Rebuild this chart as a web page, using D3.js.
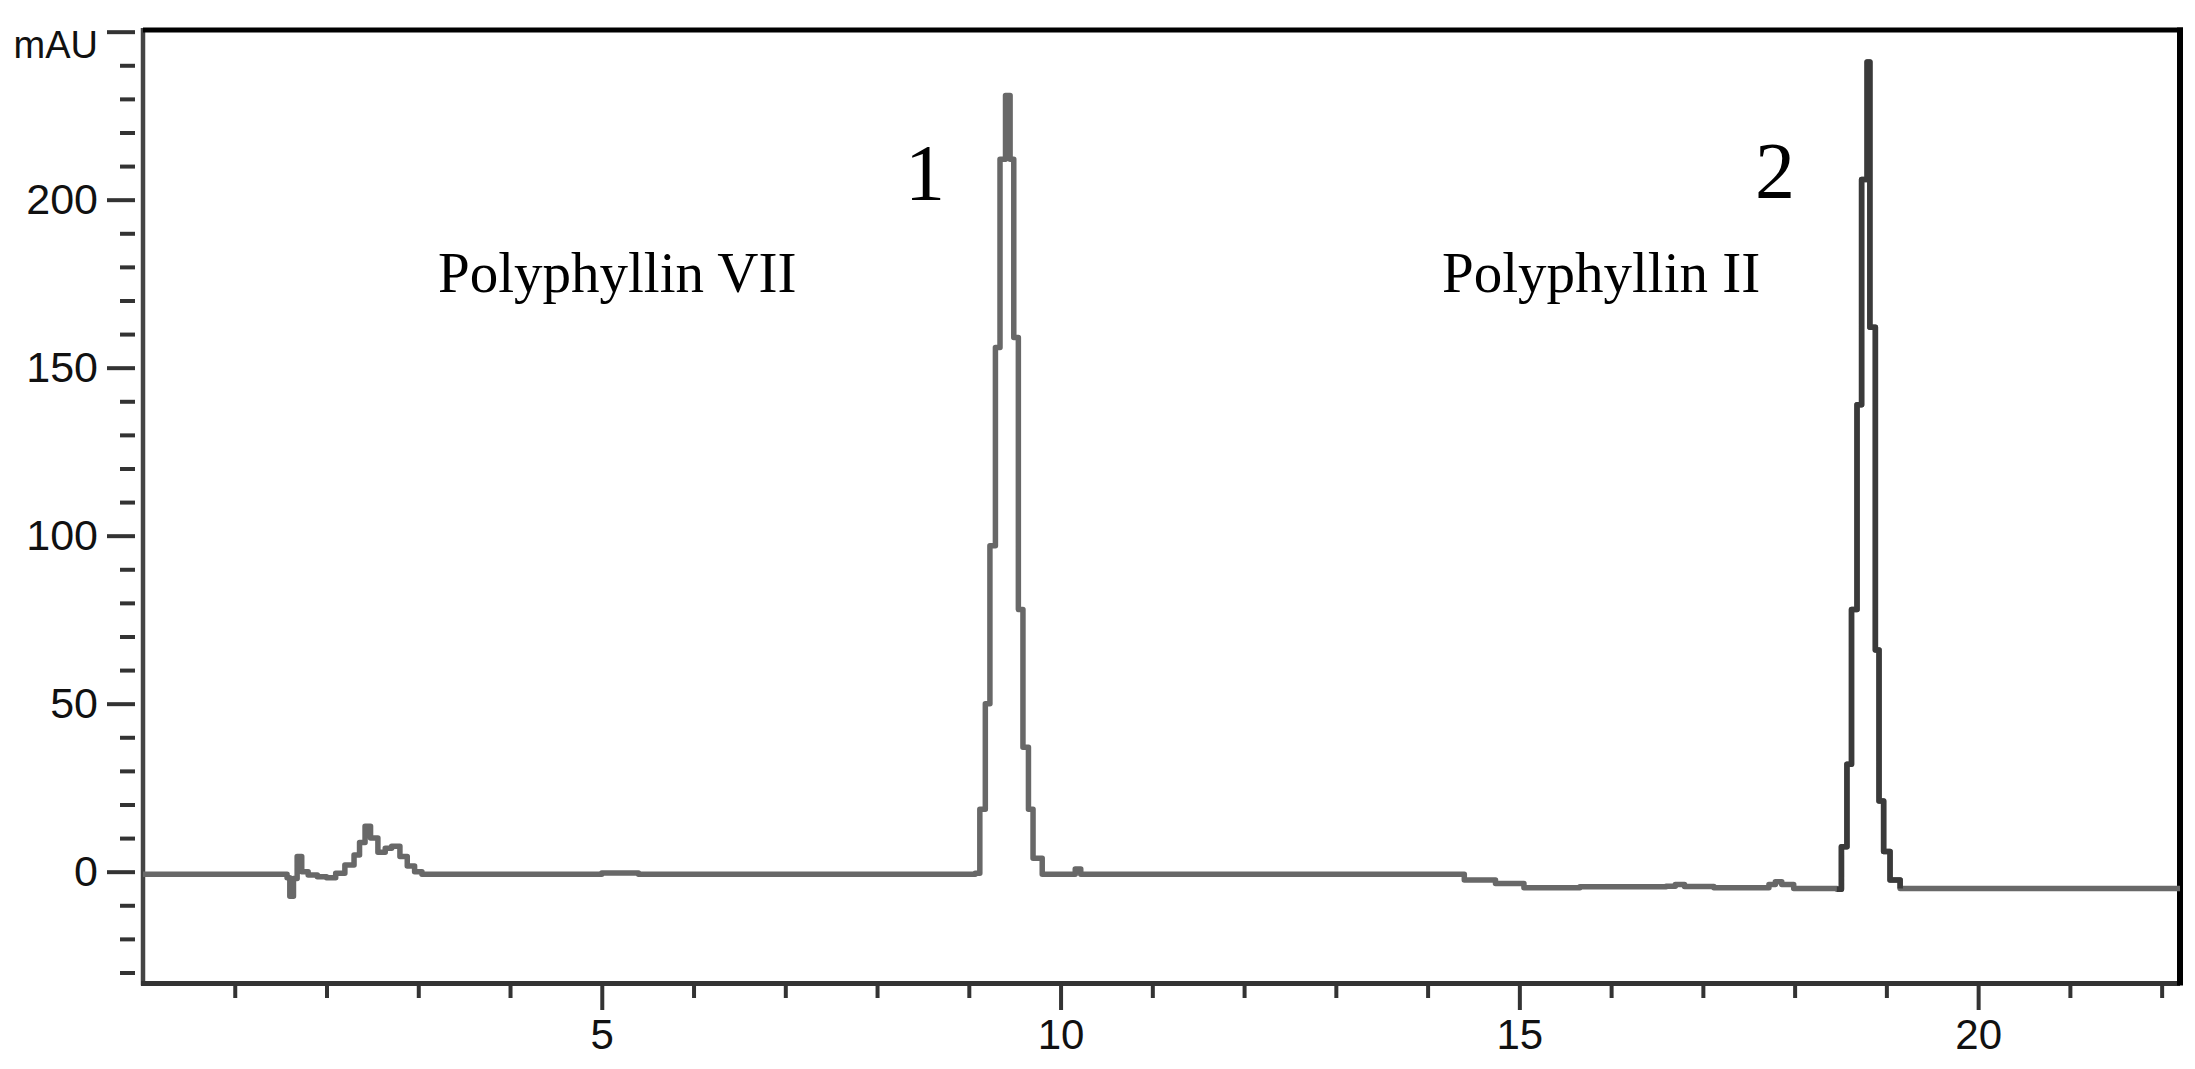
<!DOCTYPE html>
<html>
<head>
<meta charset="utf-8">
<script src="https://cdn.jsdelivr.net/npm/d3@7"></script>
<style>
  html, body { margin: 0; padding: 0; background: #fff; }
  svg { display: block; }
</style>
</head>
<body>
<svg id="chart" width="2195" height="1069"></svg>
<script>
// ---- data (retention time in min, absorbance in mAU) ----
const time = [
  0, 1.50, 1.57, 1.60, 1.64, 1.68, 1.73, 1.80, 1.90, 2.00, 2.10, 2.20, 2.30, 2.36, 2.42, 2.48, 2.56, 2.64, 2.71, 2.80, 2.88, 2.96, 3.04,
  4.60, 5.00, 5.40, 9.00, 9.07,
  9.12, 9.18, 9.23, 9.29, 9.34, 9.40, 9.45, 9.49, 9.54, 9.59, 9.65, 9.70, 9.80,
  10.10, 10.16, 10.22, 14.03, 14.40, 14.74, 15.05, 15.66, 16.60, 16.70, 16.80, 17.12, 17.66, 17.72, 17.79, 17.86, 17.99, 18.46,
  18.51, 18.57, 18.62, 18.68, 18.73, 18.79, 18.82, 18.88, 18.92, 18.97, 19.04, 19.15, 22.2
];
const signal = [
  -0.8, -0.8, -1.8, -7.3, -2.0, 4.5, 0.0, -1.0, -1.5, -1.8, -0.5, 2.0, 5.0, 8.7, 13.5, 10.0, 5.8, 7.0, 7.6, 4.5, 1.7, 0.0, -0.8,
  -0.8, -0.4, -0.8, -0.8, -0.5,
  18.6, 50, 97, 156, 212, 231, 212, 159, 78, 37, 18.6, 4, -0.8,
  -0.8, 0.8, -0.8, -0.8, -2.5, -3.5, -4.8, -4.5, -4.3, -3.8, -4.4, -4.8, -4.8, -3.8, -3.0, -3.8, -5.0, -5.2,
  7.4, 32, 78, 139, 206, 241, 162, 66, 21, 6, -2.5, -5.0, -5.0
];
const yMajorTicks = [0, 50, 100, 150, 200, 250];
const yTickLabels = ["0", "50", "100", "150", "200", "mAU"];
const yMinorTicks = [-30, -20, -10, 10, 20, 30, 40, 60, 70, 80, 90, 110, 120, 130, 140, 160, 170, 180, 190, 210, 220, 230, 240];
const xMajorTicks = [5, 10, 15, 20];
const xMinorTicks = [1, 2, 3, 4, 6, 7, 8, 9, 11, 12, 13, 14, 16, 17, 18, 19, 21, 22];
const peakNames = ["Polyphyllin VII", "Polyphyllin II"];
const peakNumbers = ["1", "2"];
const peak2Window = [18.46, 19.15];

(function () {
  const svg = d3.select("#chart");
  const pL = 143, pR = 2180, pT = 30, pB = 983.5;

  const x = d3.scaleLinear().domain([0, 22.2]).range([pL, pR]);
  const y = d3.scaleLinear().domain([-33.28, 250.5]).range([pB, pT]);

  svg.append("rect").attr("width", 2195).attr("height", 1069).attr("fill", "#fff");

  // ---- y axis (ticks detached from the axis line) ----
  const yMajor = svg.append("g").attr("transform", "translate(135,0)")
    .call(d3.axisLeft(y).tickValues(yMajorTicks).tickSize(28).tickPadding(9)
      .tickFormat((d, i) => yTickLabels[i]));
  const yMinor = svg.append("g").attr("transform", "translate(135,0)")
    .call(d3.axisLeft(y).tickValues(yMinorTicks).tickSize(15).tickFormat(""));
  [yMajor, yMinor].forEach(g => {
    g.select(".domain").remove();
    g.selectAll(".tick line").attr("stroke", "#333").attr("stroke-width", 4);
  });
  yMajor.selectAll(".tick text")
    .attr("font-family", "'Liberation Sans', Arial, sans-serif")
    .attr("font-size", 43).attr("fill", "#111");
  yMajor.selectAll(".tick text").filter(d => d === 250)
    .attr("font-size", 38).attr("dy", "0.68em");

  // ---- x axis ----
  const xMajor = svg.append("g").attr("transform", `translate(0,${pB + 1.5})`)
    .call(d3.axisBottom(x).tickValues(xMajorTicks).tickSize(25).tickPadding(9).tickFormat(d3.format("d")));
  const xMinor = svg.append("g").attr("transform", `translate(0,${pB + 1.5})`)
    .call(d3.axisBottom(x).tickValues(xMinorTicks).tickSize(13).tickFormat(""));
  [xMajor, xMinor].forEach(g => {
    g.select(".domain").remove();
    g.selectAll(".tick line").attr("stroke", "#333").attr("stroke-width", 4);
  });
  xMajor.selectAll(".tick text")
    .attr("font-family", "'Liberation Sans', Arial, sans-serif")
    .attr("font-size", 42).attr("fill", "#111");

  // ---- frame ----
  svg.append("line").attr("x1", pL).attr("x2", pL).attr("y1", pT - 2).attr("y2", pB + 2)
    .attr("stroke", "#444").attr("stroke-width", 4.5);
  svg.append("line").attr("x1", pL - 2).attr("x2", pR).attr("y1", pB).attr("y2", pB)
    .attr("stroke", "#333").attr("stroke-width", 5);
  svg.append("line").attr("x1", pL).attr("x2", pR + 3).attr("y1", pT).attr("y2", pT)
    .attr("stroke", "#000").attr("stroke-width", 5);
  svg.append("line").attr("x1", pR).attr("x2", pR).attr("y1", pT - 2.5).attr("y2", pB + 2)
    .attr("stroke", "#000").attr("stroke-width", 6);

  // ---- chromatogram trace ----
  const pts = time.map((t, i) => [t, signal[i]]);
  const line = d3.line().x(d => x(d[0])).y(d => y(d[1])).curve(d3.curveStepAfter);
  svg.append("path").datum(pts).attr("d", line)
    .attr("fill", "none").attr("stroke", "#686868").attr("stroke-width", 5.5)
    .attr("stroke-linejoin", "round");
  // second peak is drawn darker in the original
  const p2 = pts.filter(d => d[0] >= peak2Window[0] && d[0] <= peak2Window[1]);
  svg.append("path").datum(p2).attr("d", line)
    .attr("fill", "none").attr("stroke", "#3a3a3a").attr("stroke-width", 5.5)
    .attr("stroke-linejoin", "round");

  // ---- annotations ----
  const serif = "'Liberation Serif', 'Times New Roman', serif";
  svg.append("text").attr("x", 438).attr("y", 292).text(peakNames[0])
    .attr("font-family", serif).attr("font-size", 57).attr("fill", "#000");
  svg.append("text").attr("x", 1442).attr("y", 292).text(peakNames[1])
    .attr("font-family", serif).attr("font-size", 57).attr("fill", "#000");
  svg.append("text").attr("x", 925).attr("y", 200).attr("text-anchor", "middle").text(peakNumbers[0])
    .attr("font-family", serif).attr("font-size", 80).attr("fill", "#000");
  svg.append("text").attr("x", 1775).attr("y", 198).attr("text-anchor", "middle").text(peakNumbers[1])
    .attr("font-family", serif).attr("font-size", 80).attr("fill", "#000");
})();
</script>
</body>
</html>
